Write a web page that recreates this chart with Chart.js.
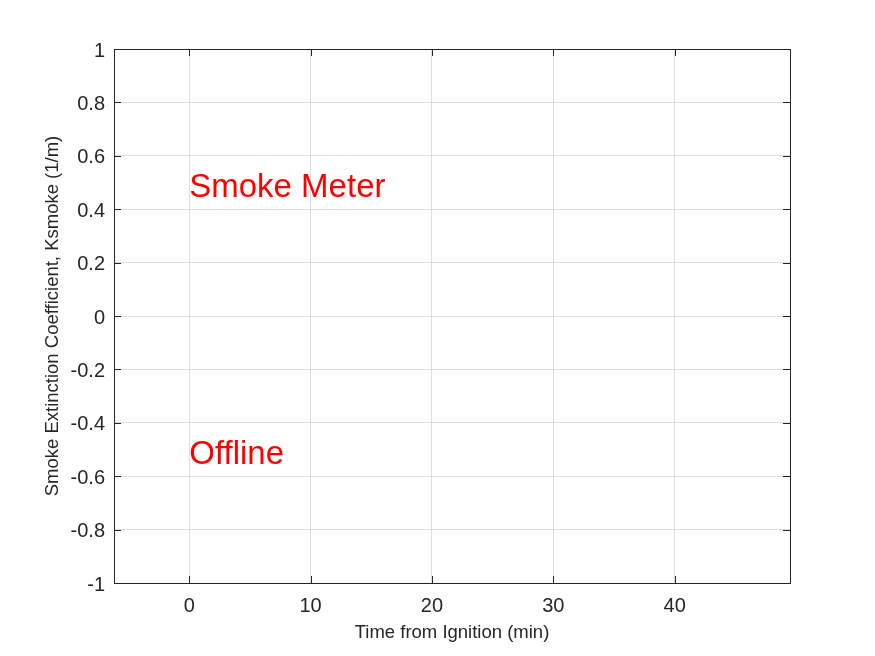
<!DOCTYPE html>
<html>
<head>
<meta charset="utf-8">
<script src="https://cdn.jsdelivr.net/npm/chart.js@4/dist/chart.umd.min.js"></script>
<style>
  html, body { margin: 0; padding: 0; background: #fff; }
  #wrap { width: 875px; height: 656px; }
</style>
</head>
<body>
<div id="wrap"><canvas id="smokeChart" width="875" height="656"></canvas></div>
<script>
// axis ranges and ticks
const xRange = [-6.2, 49.5];
const yRange = [-1, 1];
const xTicks = [0, 10, 20, 30, 40];
const yTicks = [-1, -0.8, -0.6, -0.4, -0.2, 0, 0.2, 0.4, 0.6, 0.8, 1];

// text annotations (data coords)
const noteText = ["Smoke Meter", "Offline"];
const noteX = [0, 0];
const noteY = [0.5, -0.5];

const axisColor = "#262626";
const gridColor = "rgba(38,38,38,0.15)";
const fontFam = "'Liberation Sans', Arial, Helvetica, sans-serif";

const boxPlugin = {
  id: "box",
  afterDraw(chart) {
    const { ctx, chartArea: a, scales } = chart;
    const tl = 7;
    ctx.save();
    ctx.strokeStyle = axisColor;
    ctx.lineWidth = 1;
    ctx.beginPath();
    xTicks.forEach((v) => {
      const px = Math.round(scales.x.getPixelForValue(v)) + 0.5;
      ctx.moveTo(px, a.bottom); ctx.lineTo(px, a.bottom - tl);
      ctx.moveTo(px, a.top); ctx.lineTo(px, a.top + tl);
    });
    yTicks.forEach((v) => {
      const py = Math.round(scales.y.getPixelForValue(v)) + 0.5;
      ctx.moveTo(a.left, py); ctx.lineTo(a.left + tl, py);
      ctx.moveTo(a.right, py); ctx.lineTo(a.right - tl, py);
    });
    ctx.stroke();
    ctx.strokeRect(Math.round(a.left) + 0.5, Math.round(a.top) + 0.5,
      Math.round(a.right - a.left), Math.round(a.bottom - a.top));

    // red notes, matlab-style vertical middle sits a bit lower
    ctx.fillStyle = "#ff0000";
    ctx.font = "33px " + fontFam;
    ctx.textAlign = "left";
    ctx.textBaseline = "middle";
    noteText.forEach((t, i) => {
      ctx.fillText(t, scales.x.getPixelForValue(noteX[i]), scales.y.getPixelForValue(noteY[i]) + 5);
    });
    ctx.restore();
  },
};

new Chart(document.getElementById("smokeChart"), {
  type: "scatter",
  data: { datasets: [{ data: [] }] },
  options: {
    responsive: false,
    animation: false,
    layout: { padding: { left: 38, top: 49, right: 85, bottom: 8 } },
    plugins: { legend: { display: false }, tooltip: { enabled: false } },
    scales: {
      x: {
        type: "linear",
        min: xRange[0],
        max: xRange[1],
        afterBuildTicks: (s) => { s.ticks = xTicks.map((v) => ({ value: v })); },
        afterFit: (s) => { s.height = 65; },
        grid: { color: gridColor, drawTicks: false },
        border: { display: false },
        ticks: { color: axisColor, padding: 11, maxRotation: 0, font: { family: fontFam, size: 20 } },
        title: { display: true, text: "Time from Ignition (min)", color: axisColor, font: { family: fontFam, size: 18.5 } },
      },
      y: {
        type: "linear",
        min: yRange[0],
        max: yRange[1],
        afterBuildTicks: (s) => { s.ticks = yTicks.map((v) => ({ value: v })); },
        afterFit: (s) => { s.width = 76; },
        grid: { color: gridColor, drawTicks: false },
        border: { display: false },
        ticks: { color: axisColor, padding: 9, labelOffset: 2, font: { family: fontFam, size: 20 }, callback: (v) => String(v) },
        title: { display: true, text: "Smoke Extinction Coefficient, Ksmoke (1/m)", color: axisColor, font: { family: fontFam, size: 18.5 } },
      },
    },
  },
  plugins: [boxPlugin],
});
</script>
</body>
</html>
